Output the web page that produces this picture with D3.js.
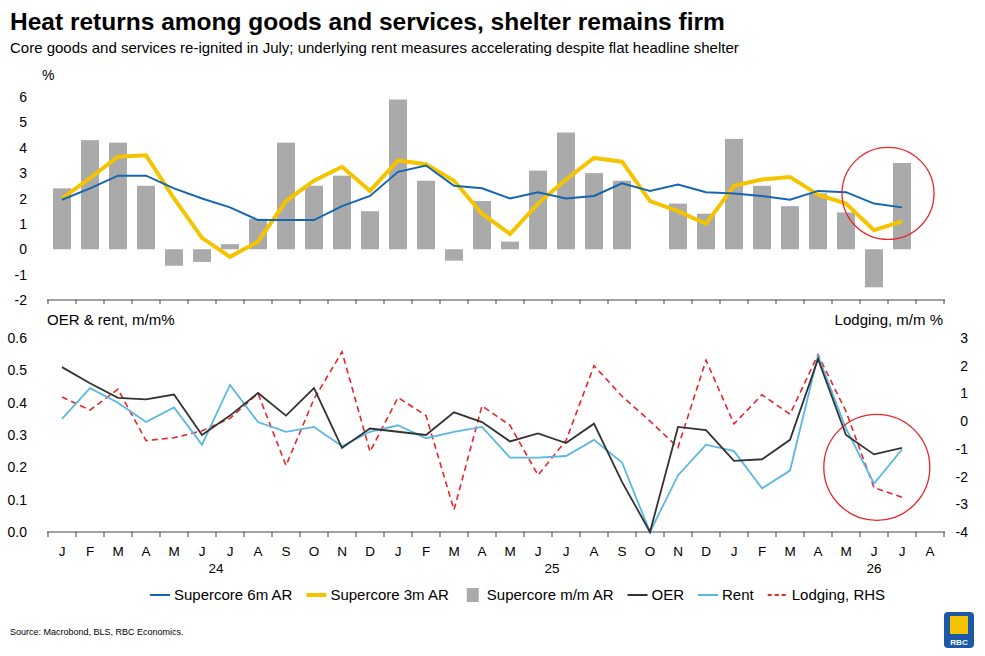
<!DOCTYPE html>
<html><head><meta charset="utf-8">
<script src="https://cdn.jsdelivr.net/npm/d3@7"></script>
<style>body{margin:0;background:#fff;font-family:Arial,"Liberation Sans",sans-serif}</style>
</head><body><div id="chart"></div>
<script>
// months Jan 2024 .. Aug 2026
var monthLabels = ["J","F","M","A","M","J","J","A","S","O","N","D","J","F","M","A","M","J","J","A","S","O","N","D","J","F","M","A","M","J","J","A"];
var yearLabels = [{i:5.5,t:"24"},{i:17.5,t:"25"},{i:29,t:"26"}];

var superMM = [2.4,4.3,4.2,2.5,-0.65,-0.5,0.2,1.2,4.2,2.5,2.9,1.5,5.9,2.7,-0.45,1.9,0.3,3.1,4.6,3.0,2.7,null,1.8,1.4,4.35,2.5,1.7,2.2,1.45,-1.5,3.4];
var super6m = [1.95,2.4,2.9,2.9,2.4,2.0,1.65,1.15,1.15,1.15,1.7,2.1,3.05,3.3,2.5,2.4,2.0,2.25,2.0,2.1,2.6,2.3,2.55,2.25,2.2,2.1,1.95,2.3,2.25,1.8,1.65];
var super3m = [2.0,2.8,3.65,3.7,2.0,0.45,-0.3,0.3,1.9,2.7,3.25,2.3,3.5,3.35,2.7,1.4,0.6,1.8,2.75,3.6,3.45,1.9,1.5,1.0,2.5,2.75,2.85,2.15,1.8,0.75,1.1];
var oer = [0.51,0.46,0.415,0.41,0.425,0.30,0.36,0.43,0.36,0.445,0.26,0.32,0.31,0.30,0.37,0.34,0.28,0.305,0.275,0.335,0.155,0.0,0.325,0.315,0.22,0.225,0.285,0.535,0.30,0.24,0.26];
var rent = [0.35,0.445,0.40,0.34,0.385,0.27,0.455,0.34,0.31,0.325,0.265,0.31,0.33,0.29,0.31,0.325,0.23,0.23,0.235,0.285,0.215,0.0,0.175,0.27,0.25,0.135,0.19,0.545,0.32,0.15,0.255];
var lodging = [0.87,0.4,1.15,-0.7,-0.6,-0.35,0.1,1.0,-1.6,0.8,2.5,-1.1,0.85,0.2,-3.2,0.55,-0.15,-1.95,-0.7,2.0,0.9,0.0,-0.95,2.2,-0.1,0.95,0.25,2.4,0.35,-2.4,-2.75];
var topTicks = [-2,-1,0,1,2,3,4,5,6];
var leftTicks = [0,0.1,0.2,0.3,0.4,0.5,0.6];
var rightTicks = [-4,-3,-2,-1,0,1,2,3];

var W = 985, H = 656;
var svg = d3.select('#chart').append('svg').attr('width', W).attr('height', H);
var blue = "#1565b0", gold = "#f5c400", grey = "#aaaaaa", dark = "#333333", lblue = "#5bb8e0", red = "#e8262a";

var x = d3.scaleLinear().domain([0, 31]).range([62, 930]);
var L = 47, R = 945;

svg.append('text').attr('x', 10).attr('y', 30).attr('font-size', 24.5).attr('font-weight', 'bold').text('Heat returns among goods and services, shelter remains firm');
svg.append('text').attr('x', 10).attr('y', 53).attr('font-size', 15).text('Core goods and services re-ignited in July; underlying rent measures accelerating despite flat headline shelter');

// ---- top panel
var yT = d3.scaleLinear().domain([-2, 6]).range([300, 97]);
svg.append('text').attr('x', 42).attr('y', 80).attr('font-size', 14).text('%');
topTicks.forEach(function(t){
  svg.append('text').attr('x', 27).attr('y', yT(t) + 5).attr('text-anchor', 'end').attr('font-size', 14).text(t);
});
svg.append('line').attr('x1', L).attr('x2', R).attr('y1', yT(-2)).attr('y2', yT(-2)).attr('stroke', '#444');
d3.range(33).forEach(function(i){
  var xx = x(i - 0.5);
  svg.append('line').attr('x1', xx).attr('x2', xx).attr('y1', yT(-2)).attr('y2', yT(-2) + 4).attr('stroke', '#444');
});
superMM.forEach(function(d, i){
  if (d === null) return;
  svg.append('rect').attr('x', x(i) - 9).attr('width', 18)
    .attr('y', yT(Math.max(0, d))).attr('height', Math.abs(yT(d) - yT(0))).attr('fill', grey);
});
var lineT = d3.line().x(function(d, i){ return x(i); }).y(function(d){ return yT(d); });
svg.append('path').datum(super3m).attr('d', lineT).attr('fill', 'none').attr('stroke', gold).attr('stroke-width', 4);
svg.append('path').datum(super6m).attr('d', lineT).attr('fill', 'none').attr('stroke', blue).attr('stroke-width', 2);
svg.append('circle').attr('cx', x(29.5)).attr('cy', yT(2.2)).attr('r', 46).attr('fill', 'none').attr('stroke', red).attr('stroke-width', 1.3);

// ---- bottom panel
var yL = d3.scaleLinear().domain([0, 0.6]).range([532, 338]);
var yR = d3.scaleLinear().domain([-4, 3]).range([532, 338]);
svg.append('text').attr('x', 47).attr('y', 325).attr('font-size', 15).text('OER & rent, m/m%');
svg.append('text').attr('x', 943).attr('y', 325).attr('text-anchor', 'end').attr('font-size', 15).text('Lodging, m/m %');
leftTicks.forEach(function(t){
  svg.append('text').attr('x', 27).attr('y', yL(t) + 5).attr('text-anchor', 'end').attr('font-size', 14).text(t.toFixed(1));
});
rightTicks.forEach(function(t){
  svg.append('text').attr('x', 968).attr('y', yR(t) + 5).attr('text-anchor', 'end').attr('font-size', 14).text(t);
});
svg.append('line').attr('x1', L).attr('x2', R).attr('y1', 532).attr('y2', 532).attr('stroke', '#444');
d3.range(33).forEach(function(i){
  var xx = x(i - 0.5);
  svg.append('line').attr('x1', xx).attr('x2', xx).attr('y1', 532).attr('y2', 537).attr('stroke', '#444');
});
monthLabels.forEach(function(m, i){
  svg.append('text').attr('x', x(i)).attr('y', 556).attr('text-anchor', 'middle').attr('font-size', 13.5).text(m);
});
yearLabels.forEach(function(d){
  svg.append('text').attr('x', x(d.i)).attr('y', 573).attr('text-anchor', 'middle').attr('font-size', 13.5).text(d.t);
});
var lineL = d3.line().x(function(d, i){ return x(i); }).y(function(d){ return yL(d); });
var lineR = d3.line().x(function(d, i){ return x(i); }).y(function(d){ return yR(d); });
svg.append('path').datum(lodging).attr('d', lineR).attr('fill', 'none').attr('stroke', red).attr('stroke-width', 1.6).attr('stroke-dasharray', '6,4');
svg.append('path').datum(rent).attr('d', lineL).attr('fill', 'none').attr('stroke', lblue).attr('stroke-width', 1.8);
svg.append('path').datum(oer).attr('d', lineL).attr('fill', 'none').attr('stroke', dark).attr('stroke-width', 1.8);
svg.append('circle').attr('cx', x(29.1)).attr('cy', yL(0.2)).attr('r', 53).attr('fill', 'none').attr('stroke', red).attr('stroke-width', 1.3);

// ---- legend
var legend = [
  {t:'Supercore 6m AR', k:'line', c:blue, w:2},
  {t:'Supercore 3m AR', k:'line', c:gold, w:4},
  {t:'Supercore m/m AR', k:'bar', c:grey},
  {t:'OER', k:'line', c:dark, w:2},
  {t:'Rent', k:'line', c:lblue, w:2},
  {t:'Lodging, RHS', k:'dash', c:red, w:2}
];
var lx = 150, ly = 595;
legend.forEach(function(d){
  if (d.k === 'bar') svg.append('rect').attr('x', lx + 4).attr('y', ly - 7).attr('width', 12).attr('height', 14).attr('fill', d.c);
  else svg.append('line').attr('x1', lx).attr('x2', lx + 20).attr('y1', ly).attr('y2', ly).attr('stroke', d.c).attr('stroke-width', d.w)
    .attr('stroke-dasharray', d.k === 'dash' ? '4,3' : null);
  var tx = svg.append('text').attr('x', lx + 24).attr('y', ly + 5).attr('font-size', 15).text(d.t);
  lx += 24 + tx.node().getComputedTextLength() + 14;
});

svg.append('text').attr('x', 10).attr('y', 635).attr('font-size', 9).text('Source: Macrobond, BLS, RBC Economics.');
// logo
svg.append('rect').attr('x', 944).attr('y', 612).attr('width', 30).attr('height', 36).attr('rx', 4).attr('fill', '#1b58a8');
svg.append('rect').attr('x', 950).attr('y', 616).attr('width', 18).attr('height', 18).attr('fill', '#f5c400');
svg.append('text').attr('x', 959).attr('y', 645).attr('text-anchor', 'middle').attr('font-size', 8).attr('font-weight', 'bold').attr('fill', '#fff').text('RBC');
</script></body></html>
